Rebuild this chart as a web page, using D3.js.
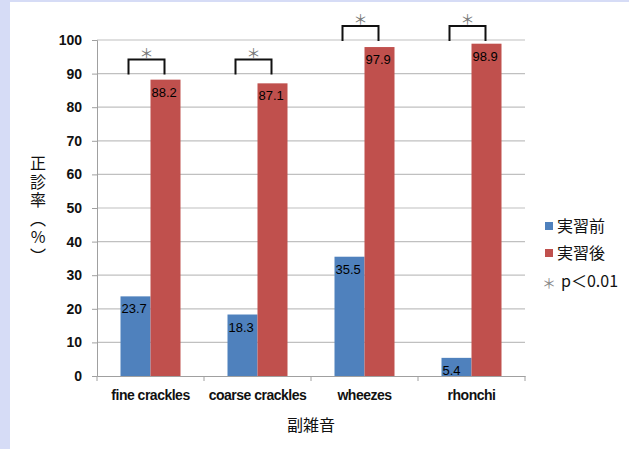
<head>
	<script src="https://d3js.org/d3.v7.min.js"></script>
	<style type="text/css">
		body { margin:0; background:#fff; }
		text { font-family: Arial, "Liberation Sans", sans-serif; }
		.jp { font-family: "Noto Sans CJK JP", sans-serif; }
	</style>
</head>
<body>
	<script type="text/javascript">
		const categories = ['fine crackles', 'coarse crackles', 'wheezes', 'rhonchi']
		const series = ['実習前', '実習後']
		const before = [23.7, 18.3, 35.5, 5.4]
		const after = [88.2, 87.1, 97.9, 98.9]
		const bracketBase = [90, 90, 100, 100]
		const yTicks = [0, 10, 20, 30, 40, 50, 60, 70, 80, 90, 100]
		const colors = ['#4f81bd', '#c0504d']

		const W = 629, H = 449
		const svg = d3.select('body').append('svg')
			.attr('width', W).attr('height', H)

		// background band on left / top
		svg.append('rect').attr('width', W).attr('height', H).style('fill', '#d6dcf6')
		svg.append('rect').attr('x', 10).attr('y', 2).attr('width', W - 10).attr('height', H - 2).style('fill', '#fff')

		const x0 = 97, x1 = 525, yTop = 40, yBot = 376
		const x = d3.scaleBand().domain(categories).range([x0, x1])
		const xs = d3.scaleBand().domain(series).range([0, 60])
		const y = d3.scaleLinear().domain([0, 100]).range([yBot, yTop])

		// grid
		svg.append('g').selectAll('line')
			.data(yTicks.slice(1))
			.enter().append('line')
				.attr('x1', x0).attr('x2', x1)
				.attr('y1', d => y(d)).attr('y2', d => y(d))
				.style('stroke', '#c0c0c0').style('stroke-width', 1.2)

		// y axis
		const yAxis = svg.append('g')
			.attr('transform', 'translate(' + x0 + ',0)')
			.call(d3.axisLeft(y).tickValues(yTicks).tickSize(5).tickPadding(10))
		yAxis.select('.domain').style('stroke', '#a0a0a0')
		yAxis.selectAll('line').style('stroke', '#a0a0a0')
		yAxis.selectAll('text').style('font-size', '14px').style('font-weight', 'bold').style('fill', '#111')
			.style('font-family', 'Arial, "Liberation Sans", sans-serif')

		// x axis
		const xAxis = svg.append('g')
			.attr('transform', 'translate(0,' + yBot + ')')
			.call(d3.axisBottom(x).tickSize(0).tickPadding(14))
		xAxis.select('.domain').style('stroke', '#a0a0a0')
		xAxis.selectAll('text').style('font-size', '14px').style('font-weight', 'bold').style('fill', '#111')
			.style('font-family', 'Arial, "Liberation Sans", sans-serif').style('letter-spacing', '-0.5px')
		svg.append('g').selectAll('line')
			.data(categories.concat([null]))
			.enter().append('line')
				.attr('x1', d => d === null ? x1 : x(d)).attr('x2', d => d === null ? x1 : x(d))
				.attr('y1', yBot).attr('y2', yBot + 5)
				.style('stroke', '#a0a0a0')

		// bars
		const groups = svg.append('g').selectAll('g')
			.data(categories)
			.enter().append('g')
				.attr('transform', d => 'translate(' + (x(d) + (x.bandwidth() - 60) / 2) + ',0)')
		const vals = [before, after]
		series.forEach((s, si) => {
			groups.append('rect')
				.attr('x', xs(s)).attr('width', xs.bandwidth())
				.attr('y', (d, i) => y(vals[si][i]))
				.attr('height', (d, i) => yBot - y(vals[si][i]))
				.style('fill', colors[si])
			groups.append('text')
				.attr('x', xs(s) + 1)
				.attr('y', (d, i) => y(vals[si][i]) + 17)
				.text((d, i) => vals[si][i])
				.style('font-size', '13px').style('fill', '#000')
		})

		// significance brackets
		categories.forEach((c, i) => {
			const cx = x(c) + x.bandwidth() / 2 - 4
			const b = y(bracketBase[i]) + 1
			const t = b - 15
			svg.append('path')
				.attr('d', 'M' + (cx - 18) + ',' + b + 'V' + t + 'H' + (cx + 18) + 'V' + b)
				.style('fill', 'none').style('stroke', '#111').style('stroke-width', 2)
			svg.append('text')
				.attr('class', 'jp')
				.attr('x', cx).attr('y', t - 2)
				.attr('text-anchor', 'middle')
				.text('＊')
				.style('font-size', '14px').style('fill', '#777')
		})

		// y title, set vertically
		const yTitle = '正診率（%）'
		svg.append('text')
			.attr('class', 'jp')
			.attr('x', 38).attr('y', 155)
			.style('writing-mode', 'vertical-rl')
			.style('text-orientation', 'upright')
			.style('letter-spacing', '2.5px')
			.style('font-size', '16px').style('fill', '#111')
			.text(yTitle)

		// x title
		svg.append('text').attr('class', 'jp')
			.attr('x', 311).attr('y', 431)
			.attr('text-anchor', 'middle')
			.text('副雑音')
			.style('font-size', '16px').style('fill', '#111')

		// legend
		const legend = svg.append('g').attr('transform', 'translate(545,0)')
		series.forEach((s, i) => {
			legend.append('rect').attr('x', 0).attr('y', 222 + i * 27).attr('width', 8).attr('height', 8)
				.style('fill', colors[i])
			legend.append('text').attr('class', 'jp')
				.attr('x', 12).attr('y', 232 + i * 27)
				.text(s).style('font-size', '16px').style('fill', '#111')
		})
		legend.append('text').attr('class', 'jp')
			.attr('x', -3).attr('y', 288)
			.text('＊').style('font-size', '14px').style('fill', '#888')
		legend.append('text')
			.attr('x', 16).attr('y', 287)
			.text('p＜0.01').style('font-size', '16px').style('fill', '#111')
			.style('font-family', '"Noto Sans CJK JP", sans-serif')
	</script>
</body>
